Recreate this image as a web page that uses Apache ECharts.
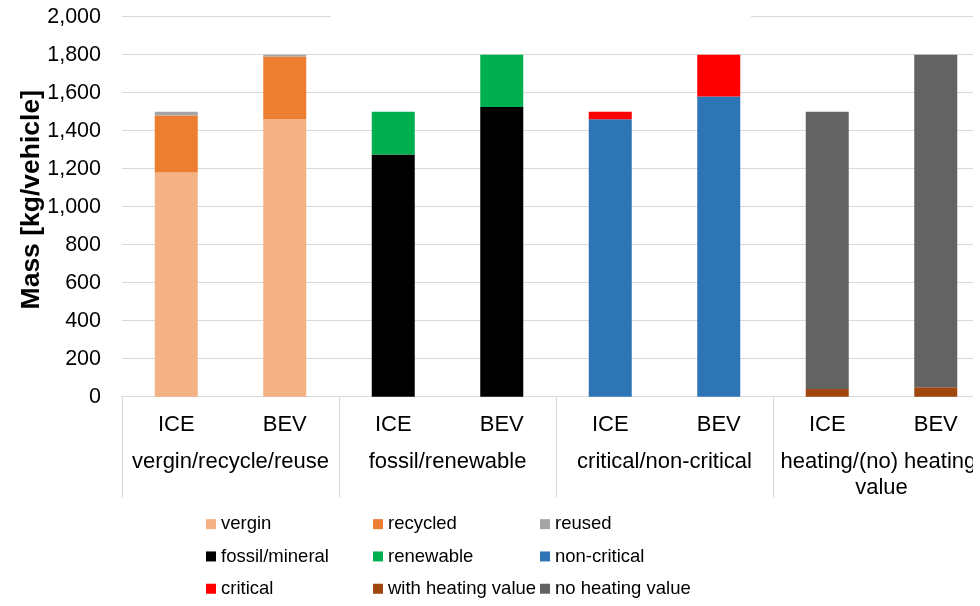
<!DOCTYPE html>
<html>
<head>
<meta charset="utf-8">
<script src="https://cdn.jsdelivr.net/npm/echarts@6/dist/echarts.min.js"></script>
<style>
  html, body { margin: 0; padding: 0; background: #fff; overflow: hidden; }
  #chart { width: 990px; height: 606px; }
</style>
</head>
<body>
<div id="chart"></div>
<script>
// Vehicle material mass breakdown, ICE vs BEV, by four classification schemes
const categories = ['ICE', 'BEV', 'ICE', 'BEV', 'ICE', 'BEV', 'ICE', 'BEV'];
const groups = ['vergin/recycle/reuse', 'fossil/renewable', 'critical/non-critical', 'heating/(no) heating value'];
const yTicks = [0, 200, 400, 600, 800, 1000, 1200, 1400, 1600, 1800, 2000];

const vergin          = [1180, 1460, null, null, null, null, null, null];
const recycled        = [300,  330,  null, null, null, null, null, null];
const reused          = [20,   10,   null, null, null, null, null, null];
const fossilMineral   = [null, null, 1275, 1525, null, null, null, null];
const renewable       = [null, null, 225,  275,  null, null, null, null];
const nonCritical     = [null, null, null, null, 1460, 1580, null, null];
const critical        = [null, null, null, null, 40,   220,  null, null];
const withHeating     = [null, null, null, null, null, null, 40,   50];
const noHeating       = [null, null, null, null, null, null, 1460, 1750];

const seriesDefs = [
  ['vergin', vergin, '#F4B183'],
  ['recycled', recycled, '#ED7D31'],
  ['reused', reused, '#A5A5A5'],
  ['fossil/mineral', fossilMineral, '#000000'],
  ['renewable', renewable, '#00B050'],
  ['non-critical', nonCritical, '#2E75B6'],
  ['critical', critical, '#FF0000'],
  ['with heating value', withHeating, '#A0470F'],
  ['no heating value', noHeating, '#636363']
];

const FONT = "'Liberation Sans', Arial, sans-serif";
const GRID_COLOR = '#d9d9d9';

const chart = echarts.init(document.getElementById('chart'), null, { renderer: 'canvas' });

chart.setOption({
  animation: false,
  backgroundColor: '#ffffff',
  textStyle: { fontFamily: FONT },
  grid: { left: 122, top: 16.7, right: 0, bottom: 209.3, containLabel: false },
  legend: {
    left: 206,
    top: 508,
    width: 510,
    padding: 0,
    itemGap: 0,
    itemWidth: 10,
    itemHeight: 10,
    icon: 'rect',
    textStyle: { fontFamily: FONT, fontSize: 18.5, color: '#000', width: 152, lineHeight: 32.3 }
  },
  xAxis: [
    {
      type: 'category',
      data: categories,
      position: 'bottom',
      axisLine: { show: true, lineStyle: { color: GRID_COLOR, width: 1 } },
      axisTick: {
        show: true,
        length: 101,
        interval: function (index) { return index % 2 === 0; },
        lineStyle: { color: GRID_COLOR, width: 1 }
      },
      axisLabel: { fontFamily: FONT, fontSize: 22, color: '#000', margin: 17, lineHeight: 22, interval: 0 }
    },
    {
      type: 'category',
      data: groups,
      position: 'bottom',
      axisLine: { show: false },
      axisTick: { show: false },
      axisLabel: {
        fontFamily: FONT, fontSize: 22, color: '#000', margin: 52, lineHeight: 26,
        interval: 0, width: 205, overflow: 'break'
      }
    }
  ],
  yAxis: {
    type: 'value',
    min: yTicks[0],
    max: yTicks[yTicks.length - 1],
    interval: 200,
    name: 'Mass [kg/vehicle]',
    nameLocation: 'middle',
    nameGap: 77,
    nameMoveOverlap: false,
    nameTextStyle: { fontFamily: FONT, fontSize: 26.5, fontWeight: 'bold', color: '#000', padding: [0, 0, 0, 14] },
    axisLine: { show: false },
    axisTick: { show: false },
    axisLabel: {
      fontFamily: FONT, fontSize: 21.5, color: '#000', margin: 21,
      formatter: function (v) { return v.toLocaleString('en-US'); }
    },
    splitLine: { show: true, lineStyle: { color: GRID_COLOR, width: 1 } }
  },
  series: seriesDefs.map(function (d) {
    return {
      name: d[0],
      type: 'bar',
      stack: 'mass',
      xAxisIndex: 0,
      barWidth: 43,
      data: d[1],
      itemStyle: { color: d[2] }
    };
  }),
  graphic: [
    // break in the top gridline
    { type: 'rect', z: 100, shape: { x: 331, y: 13, width: 420, height: 7 }, style: { fill: '#ffffff' } },
    // right-hand edge of the drawing area
    { type: 'rect', z: 100, shape: { x: 973, y: 0, width: 17, height: 606 }, style: { fill: '#ffffff' } }
  ]
});
</script>
</body>
</html>
